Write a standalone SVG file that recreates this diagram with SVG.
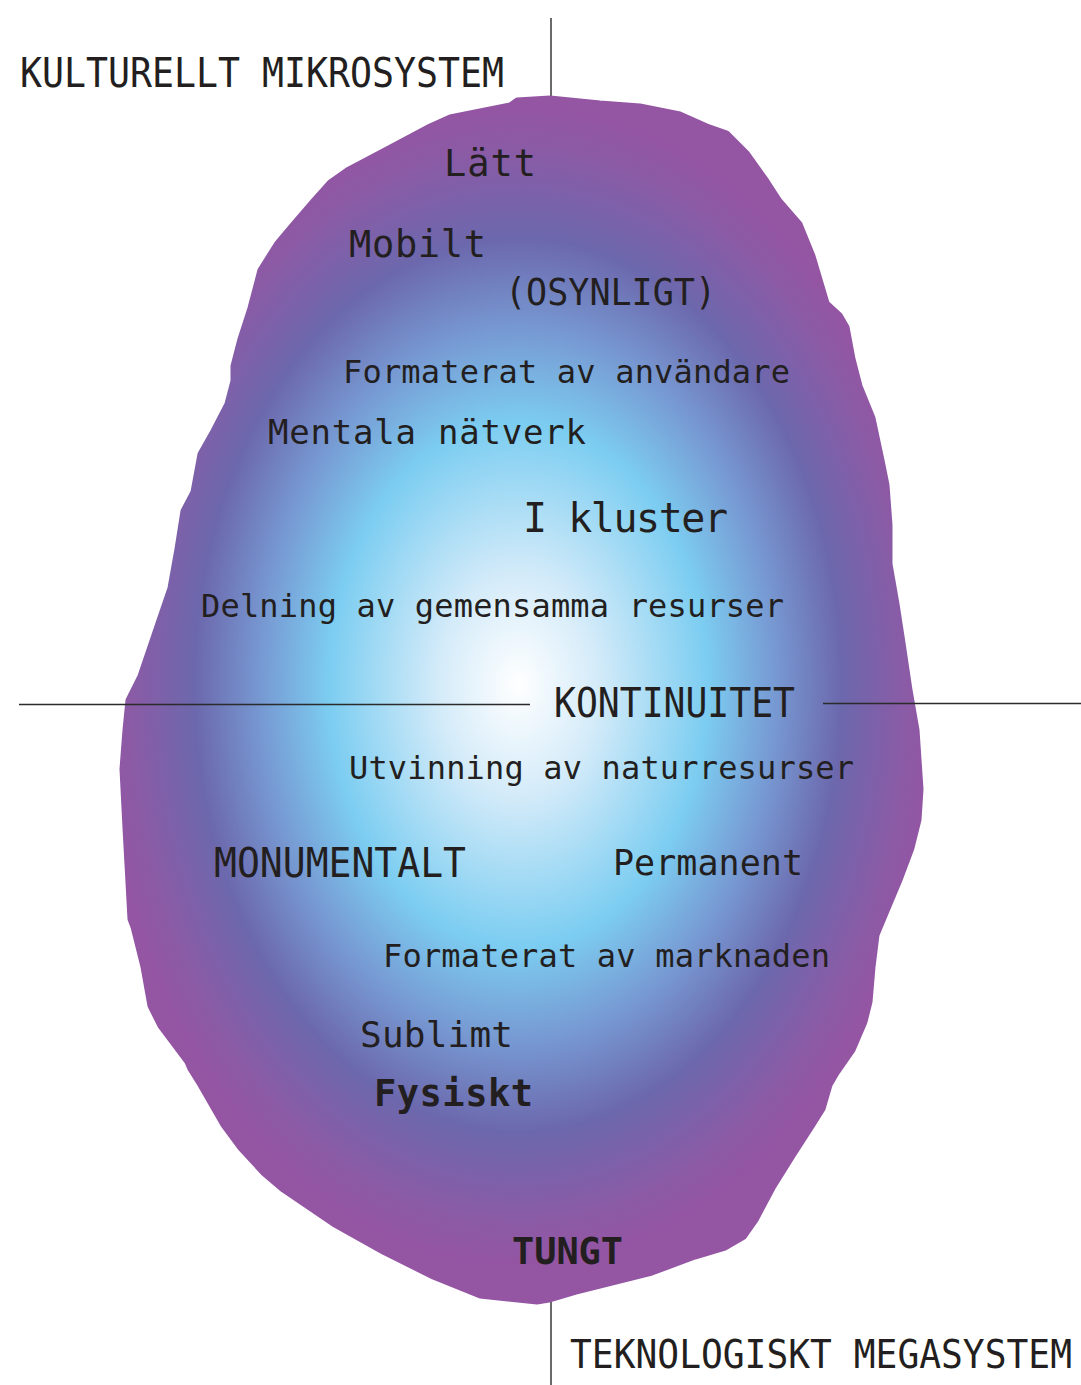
<svg xmlns="http://www.w3.org/2000/svg" width="1081" height="1385" viewBox="0 0 1081 1385">
<style>
.t{font-family:"DejaVu Sans Mono","Liberation Mono",monospace;fill:#231f20}
.s{font-size:32px}
.b{font-weight:bold}
.ln{stroke:#2b2b2b;stroke-width:1.4;fill:none}
</style>
<defs>
<radialGradient id="g" gradientUnits="userSpaceOnUse" cx="518" cy="685" r="420" gradientTransform="matrix(1 0 0 1.38 0 -260.3)">
<stop offset="0" stop-color="#ffffff"/>
<stop offset="0.19" stop-color="#d4ebf9"/>
<stop offset="0.45" stop-color="#7ccdf1"/>
<stop offset="0.61" stop-color="#779ad3"/>
<stop offset="0.77" stop-color="#6c68ad"/>
<stop offset="0.92" stop-color="#8a5ba6"/>
<stop offset="1" stop-color="#9455a3"/>
</radialGradient>
</defs>
<rect width="1081" height="1385" fill="#ffffff"/>
<g id="connectors">
<line class="ln" x1="551" y1="18" x2="551" y2="1385"/>
</g>
<g id="blob">
<path fill="url(#g)" stroke="url(#g)" stroke-width="5" stroke-linejoin="round" d="M510,105 L517,100 L550,98 L600,103 L640,106 L680,114 L707,126 L727,133 L747,153 L767,181 L780,201 L800,224 L813,256 L827,303 L840,315 L847,327 L853,359 L860,386 L873,418 L883,465 L887,485 L890,525 L890,564 L897,604 L903,643 L910,690 L917,730 L921,789 L919,820 L912,848 L900,880 L887,911 L877,935 L873,967 L870,1002 L865,1022 L853,1050 L837,1073 L830,1085 L823,1109 L813,1125 L793,1156 L773,1188 L756,1220 L744,1237 L725,1248 L695,1257 L652,1273 L576,1292 L549,1300 L537,1302 L480,1296 L433,1277 L383,1252 L333,1224 L283,1190 L263,1173 L240,1148 L223,1125 L200,1085 L190,1069 L187,1062 L160,1026 L150,1006 L143,967 L133,927 L130,919 L125,828 L122,769 L125,730 L128,700 L140,676 L157,626 L170,588 L177,549 L183,511 L193,492 L200,454 L213,431 L227,404 L233,381 L233,366 L240,339 L250,308 L260,270 L277,243 L293,224 L313,201 L330,182 L347,170 L383,151 L430,126 L450,117 Z"/>
</g>
<g id="axes">
<line class="ln" x1="19" y1="704.5" x2="530" y2="704.5"/>
<line class="ln" x1="823" y1="703.5" x2="1081" y2="703.5"/>
</g>
<g id="label-kulturellt"><text class="t" x="20" y="87" font-size="41" textLength="484" lengthAdjust="spacingAndGlyphs">KULTURELLT MIKROSYSTEM</text></g>
<g id="label-teknologiskt"><text class="t" x="570" y="0" transform="translate(0,1368) scale(1,1.08)" font-size="36" textLength="502" lengthAdjust="spacingAndGlyphs">TEKNOLOGISKT MEGASYSTEM</text></g>
<g id="n-latt"><text class="t" x="444" y="176" font-size="37" textLength="92" lengthAdjust="spacing">Lätt</text></g>
<g id="n-mobilt"><text class="t" x="349" y="257" font-size="37" textLength="137" lengthAdjust="spacing">Mobilt</text></g>
<g id="n-osynligt"><text class="t" x="505" y="305" font-size="37" textLength="211" lengthAdjust="spacingAndGlyphs">(OSYNLIGT)</text></g>
<g id="n-formaterat-anv"><text class="t s" x="343" y="383" textLength="447" lengthAdjust="spacing">Formaterat av användare</text></g>
<g id="n-mentala"><text class="t" x="268" y="444" font-size="34" textLength="318" lengthAdjust="spacing">Mentala nätverk</text></g>
<g id="n-kluster"><text class="t" x="523" y="532" font-size="40" textLength="205" lengthAdjust="spacing">I kluster</text></g>
<g id="n-delning"><text class="t s" x="201" y="617" textLength="583" lengthAdjust="spacing">Delning av gemensamma resurser</text></g>
<g id="n-kontinuitet"><text class="t" x="554" y="717" font-size="40" textLength="241" lengthAdjust="spacingAndGlyphs">KONTINUITET</text></g>
<g id="n-utvinning"><text class="t s" x="349" y="779" textLength="505" lengthAdjust="spacing">Utvinning av naturresurser</text></g>
<g id="n-monumentalt"><text class="t" x="214" y="877" font-size="40" textLength="252" lengthAdjust="spacingAndGlyphs">MONUMENTALT</text></g>
<g id="n-permanent"><text class="t" x="613" y="875" font-size="35" textLength="190" lengthAdjust="spacing">Permanent</text></g>
<g id="n-formaterat-mark"><text class="t s" x="383" y="967" textLength="447" lengthAdjust="spacing">Formaterat av marknaden</text></g>
<g id="n-sublimt"><text class="t" x="360" y="1047" font-size="36" textLength="153" lengthAdjust="spacing">Sublimt</text></g>
<g id="n-fysiskt"><text class="t b" x="374" y="1106" font-size="37" textLength="159" lengthAdjust="spacing">Fysiskt</text></g>
<g id="n-tungt"><text class="t b" x="512" y="1264" font-size="38" textLength="111" lengthAdjust="spacingAndGlyphs">TUNGT</text></g>
</svg>
